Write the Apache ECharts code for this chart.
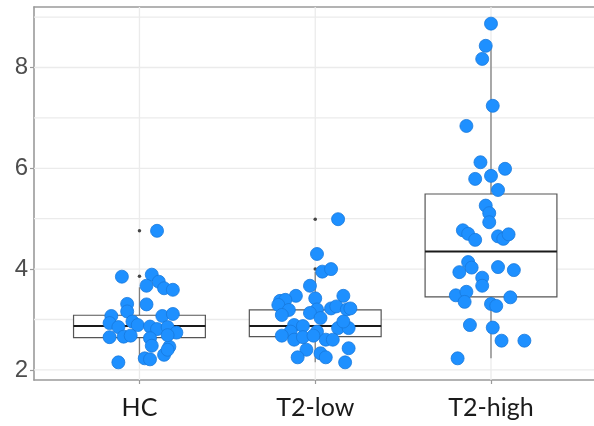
<!DOCTYPE html>
<html>
<head>
<meta charset="utf-8">
<script src="https://cdn.jsdelivr.net/npm/echarts@6/dist/echarts.min.js"></script>
<style>
  html, body { margin: 0; padding: 0; background: #fff; }
  #chart { width: 594px; height: 426px; }
</style>
</head>
<body>
<div id="chart"></div>
<script>
var categories = ['HC', 'T2-low', 'T2-high'];

// measured values and horizontal jitter (offset from the group centre)
var hcValues = [4.76, 3.85, 3.89, 3.67, 3.75, 3.62, 3.59, 3.31, 3.30, 3.16, 3.07, 3.07, 3.11,
  2.93, 2.85, 2.96, 2.89, 2.86, 2.81, 2.85, 2.74, 2.66, 2.68, 2.65, 2.63, 2.48, 2.46,
  2.30, 2.23, 2.21, 2.15, 2.69, 2.40];
var hcJitter = [0.10, -0.10, 0.07, 0.04, 0.11, 0.14, 0.19, -0.07, 0.04, -0.07, -0.16, 0.13, 0.19,
  -0.17, -0.12, -0.04, -0.01, 0.06, 0.10, 0.16, 0.21, -0.09, -0.05, -0.17, 0.06, 0.07, 0.17,
  0.14, 0.03, 0.06, -0.12, 0.16, 0.16];

var lowValues = [4.99, 4.30, 3.95, 4.00, 3.67, 3.47, 3.37, 3.39, 3.42, 3.47, 3.29, 3.19, 3.09,
  3.20, 3.22, 3.26, 3.20, 3.22, 3.13, 3.03, 2.89, 2.87, 2.76, 2.76, 2.83, 2.83, 2.96,
  2.68, 2.60, 2.65, 2.68, 2.60, 2.60, 2.40, 2.25, 2.33, 2.25, 2.43, 2.15];
var lowJitter = [0.13, 0.01, 0.04, 0.09, -0.03, -0.11, -0.20, -0.17, 0.00, 0.16, -0.21, -0.15, -0.19,
  0.01, 0.09, 0.12, 0.18, 0.20, -0.03, 0.03, -0.12, -0.07, -0.14, 0.01, 0.13, 0.19, 0.16,
  -0.19, -0.12, -0.07, -0.01, 0.06, 0.10, -0.05, -0.10, 0.03, 0.06, 0.19, 0.17];

var highValues = [8.87, 8.43, 8.17, 7.24, 6.84, 6.12, 5.99, 5.79, 5.85, 5.57, 5.26, 5.11, 4.93,
  4.77, 4.70, 4.58, 4.65, 4.60, 4.69, 4.14, 3.94, 4.03, 4.04, 3.98, 3.83, 3.67, 3.48,
  3.55, 3.35, 3.44, 3.31, 3.27, 2.89, 2.84, 2.58, 2.58, 2.23];
var highJitter = [0.00, -0.03, -0.05, 0.01, -0.14, -0.06, 0.08, -0.09, 0.00, 0.04, -0.03, -0.01, -0.01,
  -0.16, -0.13, -0.09, 0.04, 0.07, 0.10, -0.13, -0.18, -0.11, 0.04, 0.13, -0.05, -0.05, -0.20,
  -0.14, -0.15, 0.11, 0.00, 0.03, -0.12, 0.01, 0.06, 0.19, -0.19];

// box statistics per group
var boxLow = [2.15, 2.15, 2.23];
var boxQ1 = [2.64, 2.66, 3.45];
var boxMedian = [2.87, 2.87, 4.35];
var boxQ3 = [3.085, 3.19, 5.49];
var boxHigh = [3.64, 3.95, 8.43];

var outlierGroup = [1, 1, 2, 2, 3];
var outlierValues = [3.86, 4.76, 4.00, 4.99, 8.87];

var yTicks = [2, 4, 6, 8];
var yMinorTicks = [3, 5, 7, 9];
var xTicks = [1, 2, 3];

function pointsOf(group, values, jitter) {
  return values.map(function (v, k) { return [group + jitter[k], v]; });
}

var boxData = categories.map(function (c, k) {
  return [k + 1, boxLow[k], boxQ1[k], boxMedian[k], boxQ3[k], boxHigh[k]];
});

function renderBox(params, api) {
  var g = api.value(0);
  var half = 0.375;
  var tl = api.coord([g - half, api.value(4)]);
  var br = api.coord([g + half, api.value(2)]);
  var mid = api.coord([g, api.value(3)]);
  var lo = api.coord([g, api.value(1)]);
  var hi = api.coord([g, api.value(5)]);
  var ml = api.coord([g - half, api.value(3)]);
  var mr = api.coord([g + half, api.value(3)]);
  var wStyle = { stroke: '#808080', lineWidth: 1.3 };
  return {
    type: 'group',
    children: [
      { type: 'line', shape: { x1: hi[0], y1: hi[1], x2: hi[0], y2: tl[1] }, style: wStyle },
      { type: 'line', shape: { x1: lo[0], y1: lo[1], x2: lo[0], y2: br[1] }, style: wStyle },
      { type: 'rect', shape: { x: tl[0], y: tl[1], width: br[0] - tl[0], height: br[1] - tl[1] },
        style: { fill: '#fff', stroke: '#555', lineWidth: 1.2 } },
      { type: 'line', shape: { x1: ml[0], y1: mid[1], x2: mr[0], y2: mid[1] },
        style: { stroke: '#1a1a1a', lineWidth: 2 } }
    ]
  };
}

function renderHGrid(params, api) {
  var cs = params.coordSys;
  var p = api.coord([1, api.value(0)]);
  return { type: 'line', shape: { x1: cs.x, y1: p[1], x2: cs.x + cs.width, y2: p[1] },
    style: { stroke: '#ebebeb', lineWidth: 1.3 } };
}

function renderVGrid(params, api) {
  var cs = params.coordSys;
  var p = api.coord([api.value(0), 5]);
  return { type: 'line', shape: { x1: p[0], y1: cs.y, x2: p[0], y2: cs.y + cs.height },
    style: { stroke: '#ebebeb', lineWidth: 1.3 } };
}

var chart = echarts.init(document.getElementById('chart'));

var pointStyle = { color: '#1e90ff', borderColor: '#1878dc', borderWidth: 0.8, opacity: 1 };
var frameLine = { show: true, lineStyle: { color: '#9a9a9a', width: 1.6 } };

var option = {
  animation: false,
  grid: { left: 34, right: 0, top: 7, bottom: 46 },
  xAxis: [{
    type: 'value', min: 0.4, max: 3.586,
    axisLine: frameLine,
    splitLine: { show: false },
    axisTick: { show: true, customValues: xTicks, length: 4, lineStyle: { color: '#9a9a9a', width: 1.2 } },
    axisLabel: {
      customValues: xTicks, margin: 15, fontSize: 25, color: '#1a1a1a', fontFamily: 'Lato',
      formatter: function (v) { return categories[Math.round(v) - 1]; }
    }
  }, {
    // top edge of the panel frame
    type: 'value', position: 'top', min: 0.4, max: 3.586,
    axisLine: frameLine,
    splitLine: { show: false },
    axisTick: { show: false },
    axisLabel: { show: false }
  }],
  yAxis: {
    type: 'value', min: 1.8, max: 9.2,
    axisLine: frameLine,
    splitLine: { show: false },
    axisTick: { show: true, customValues: yTicks, length: 4, lineStyle: { color: '#9a9a9a', width: 1.2 } },
    axisLabel: { customValues: yTicks, margin: 6, fontSize: 24, color: '#4d4d4d', fontFamily: 'Liberation Sans' }
  },
  series: [
    { type: 'custom', name: 'hgrid', z: 1, silent: true, renderItem: renderHGrid,
      data: yTicks.concat(yMinorTicks).map(function (v) { return [v]; }), encode: { y: 0 } },
    { type: 'custom', name: 'vgrid', z: 1, silent: true, renderItem: renderVGrid,
      data: xTicks.map(function (v) { return [v]; }), encode: { x: 0 } },
    { type: 'custom', name: 'box', z: 2, renderItem: renderBox, data: boxData,
      encode: { x: 0, y: [1, 2, 3, 4, 5] } },
    { type: 'scatter', name: 'outliers', z: 3, symbolSize: 3.5, itemStyle: { color: '#1a1a1a' },
      data: outlierValues.map(function (v, k) { return [outlierGroup[k], v]; }) },
    { type: 'scatter', name: 'HC', z: 4, symbolSize: 13, itemStyle: pointStyle,
      data: pointsOf(1, hcValues, hcJitter) },
    { type: 'scatter', name: 'T2-low', z: 4, symbolSize: 13, itemStyle: pointStyle,
      data: pointsOf(2, lowValues, lowJitter) },
    { type: 'scatter', name: 'T2-high', z: 4, symbolSize: 13, itemStyle: pointStyle,
      data: pointsOf(3, highValues, highJitter) }
  ]
};

chart.setOption(option);
window.addEventListener('resize', function () {
  chart.resize();
});
</script>
</body>
</html>
